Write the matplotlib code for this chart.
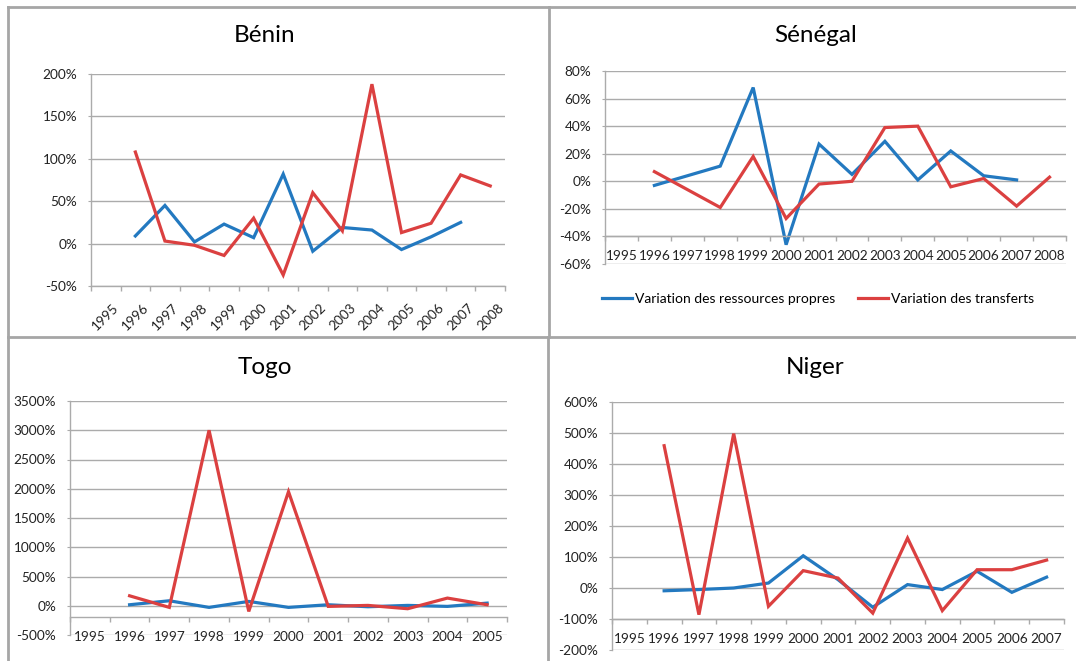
import matplotlib.pyplot as plt
from matplotlib.lines import Line2D
from matplotlib.ticker import FuncFormatter, FixedLocator
import numpy as np

plt.rcParams['font.family'] = ['Lato', 'DejaVu Sans']

nan = np.nan
blue = '#2379C0'
red = '#DB4040'
grey = '#ababab'

# Bénin
benin_years = [str(y) for y in range(1995, 2009)]
benin_propres = [nan, 9, 45, 2, 23, 7, 82, -9, 19, 16, -7, 8, 25, nan]
benin_transferts = [nan, 108, 3, -2, -14, 30, -37, 60, 15, 188, 13, 24, 81, 68]

# Sénégal
senegal_years = [str(y) for y in range(1995, 2009)]
senegal_propres = [nan, -3, 4, 11, 68, -46, 27, 5, 29, 1, 22, 4, 1, nan]
senegal_transferts = [nan, 7, -6, -19, 18, -27, -2, 0, 39, 40, -4, 2, -18, 3]

# Togo
togo_years = [str(y) for y in range(1995, 2006)]
togo_propres = [nan, 17, 85, -28, 74, -28, 17, -17, 6, -11, 45]
togo_transferts = [nan, 170, -28, 3000, -97, 1950, -11, 6, -51, 131, 17]

# Niger
niger_years = [str(y) for y in range(1995, 2008)]
niger_propres = [nan, -9, -5, 0, 16, 104, 27, -62, 11, -5, 54, -14, 35]
niger_transferts = [nan, 459, -86, 498, -59, 56, 32, -81, 161, -73, 59, 59, 90]

W, H = 1076, 661
fig = plt.figure(figsize=(W / 100, H / 100), dpi=100)
fs = 9.8


def panel(box, title, title_xy, years, propres, transferts, yticks, cross, rotate=False):
    left, right, top, bottom = box
    ax = fig.add_axes([left / W, 1 - bottom / H, (right - left) / W, (bottom - top) / H])
    n = len(years)
    x = np.arange(n) + 0.5
    ax.plot(x, propres, color=blue, lw=2.3, solid_joinstyle='miter')
    ax.plot(x, transferts, color=red, lw=2.3, solid_joinstyle='miter')
    ax.set_xlim(0, n)
    ax.set_ylim(yticks[0], yticks[-1])
    ax.set_yticks(yticks)
    ax.yaxis.set_major_formatter(FuncFormatter(lambda v, p: f"{v:.0f}%"))
    ax.yaxis.grid(True, color=grey, lw=1)
    ax.set_axisbelow(True)
    ax.xaxis.set_major_locator(FixedLocator(range(n + 1)))
    ax.xaxis.set_minor_locator(FixedLocator(x))
    ax.set_xticklabels([])
    ax.tick_params(axis='x', which='major', length=3.5, color=grey, width=1)
    ax.tick_params(axis='y', length=2, color=grey, pad=8, labelsize=fs, labelcolor='#222222')
    ax.tick_params(axis='x', which='minor', length=0, pad=10, labelsize=fs, labelcolor='#222222')
    ax.set_xticklabels(years, minor=True)
    if rotate:
        ax.tick_params(axis='x', which='minor', labelrotation=45, pad=11)
        for lbl in ax.get_xticklabels(minor=True):
            lbl.set_ha('right')
            lbl.set_va('center')
            lbl.set_rotation_mode('anchor')
    ax.spines['bottom'].set_position(('data', cross))
    for s in ['top', 'right']:
        ax.spines[s].set_visible(False)
    for s in ['left', 'bottom']:
        ax.spines[s].set_color(grey)
        ax.spines[s].set_linewidth(1)
    fig.text(title_xy[0] / W, 1 - title_xy[1] / H, title, ha='center', va='center', fontsize=17.5)
    return ax


panel((91, 505, 74, 286), "Bénin", (265, 36), benin_years, benin_propres, benin_transferts,
      [-50, 0, 50, 100, 150, 200], -50, rotate=True)
panel((605, 1066, 71, 264), "Sénégal", (816, 36), senegal_years, senegal_propres,
      senegal_transferts, [-60, -40, -20, 0, 20, 40, 60, 80], -40)
panel((70, 507, 401, 635), "Togo", (265, 367), togo_years, togo_propres, togo_transferts,
      list(range(-500, 3501, 500)), -200)
panel((612, 1064, 402, 650), "Niger", (815, 367), niger_years, niger_propres, niger_transferts,
      list(range(-200, 601, 100)), -100)

handles = [Line2D([], [], color=blue, lw=2.3), Line2D([], [], color=red, lw=2.3)]
fig.legend(handles, ["Variation des ressources propres", "Variation des transferts"],
           loc='center', bbox_to_anchor=(818 / W, 1 - 299 / H), ncol=2, frameon=False,
           fontsize=10, handlelength=2.2, handletextpad=0.2, columnspacing=1.6)

# panel borders
border = dict(color='#a6a6a6', lw=2)
fig.add_artist(Line2D([8 / W, 1], [1 - 7 / H, 1 - 7 / H], **border))
fig.add_artist(Line2D([8 / W, 8 / W], [1 - 7 / H, 0], **border))
fig.add_artist(Line2D([8 / W, 1], [1 - 337 / H, 1 - 337 / H], **border))
fig.add_artist(Line2D([549 / W, 549 / W], [1 - 7 / H, 1 - 337 / H], **border))
fig.add_artist(Line2D([548 / W, 548 / W], [1 - 337 / H, 0], **border))

fig.savefig("out.png", dpi=100)
